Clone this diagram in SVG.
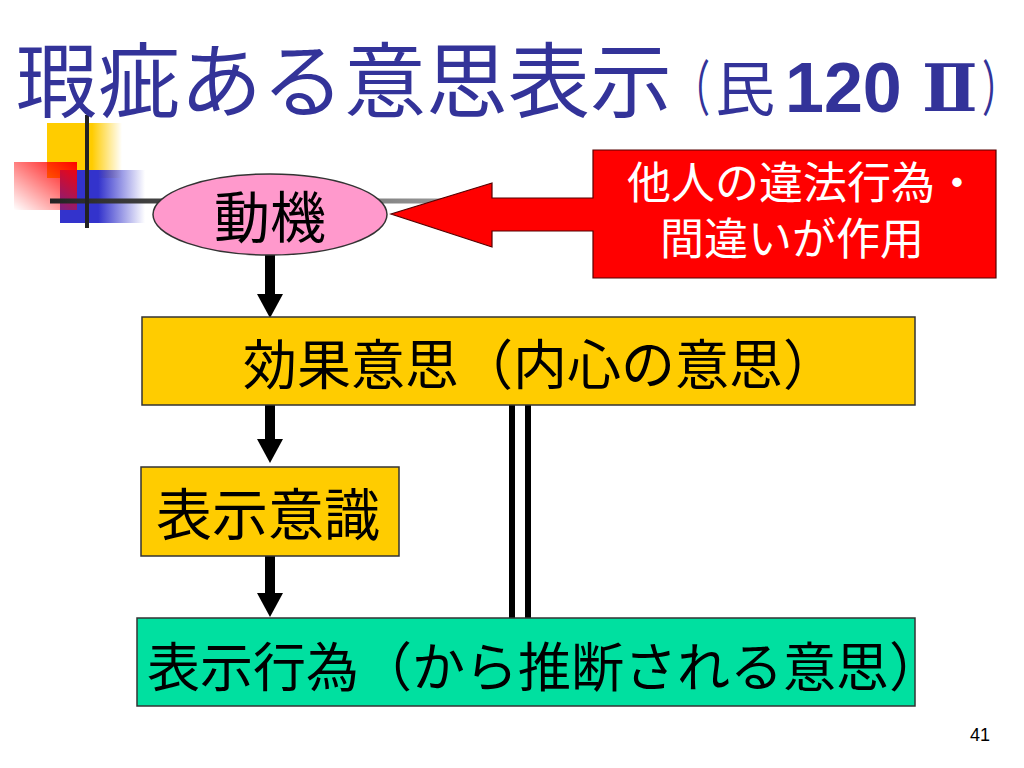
<svg xmlns="http://www.w3.org/2000/svg" width="1024" height="768" viewBox="0 0 1024 768">
<style>
.jp{font-family:"Noto Sans CJK JP","Noto Sans",sans-serif;}
.jpc{font-family:"Liberation Sans","Noto Sans CJK JP",sans-serif;}
.title{fill:#333399;}
.box{stroke:#333333;stroke-width:1.5;}
.lbl{fill:#000000;}
.conn{stroke:#000000;stroke-width:10;fill:none;}
.dbl{stroke:#000000;stroke-width:6;fill:none;}
</style>
<defs>
<linearGradient id="gY" x1="0" y1="0" x2="1" y2="0">
<stop offset="0" stop-color="#FFCC00"/><stop offset="0.6" stop-color="#FFCC00"/><stop offset="1" stop-color="#FFCC00" stop-opacity="0"/>
</linearGradient>
<linearGradient id="gB" x1="0" y1="0" x2="1" y2="0">
<stop offset="0" stop-color="#3333CC"/><stop offset="0.45" stop-color="#3333CC"/><stop offset="1" stop-color="#3333CC" stop-opacity="0"/>
</linearGradient>
<linearGradient id="gR" x1="1" y1="0" x2="0" y2="1">
<stop offset="0" stop-color="#FF0000"/><stop offset="1" stop-color="#FF0000" stop-opacity="0"/>
</linearGradient>
<linearGradient id="gL" gradientUnits="userSpaceOnUse" x1="50" y1="0" x2="450" y2="0">
<stop offset="0" stop-color="#222222"/><stop offset="1" stop-color="#999999"/>
</linearGradient>
<marker id="ah" markerUnits="userSpaceOnUse" markerWidth="24" markerHeight="26" viewBox="0 0 24 26" refX="0" refY="13" orient="auto">
<path d="M0,0 L24,13 L0,26 Z" fill="#000000"/>
</marker>
</defs>
<rect width="1024" height="768" fill="#FFFFFF"/>

<g id="decoration">
<rect x="47" y="123" width="75" height="55" fill="url(#gY)"/>
<rect x="60" y="170" width="85" height="53" fill="url(#gB)"/>
<rect x="14" y="162" width="63" height="48" fill="url(#gR)"/>
<line x1="50" y1="201" x2="500" y2="201" stroke="url(#gL)" stroke-width="5"/>
<line x1="87" y1="115" x2="87" y2="228" stroke="#222222" stroke-width="4"/>
</g>

<g id="title" class="jp title">
<text x="16" y="111" font-size="82">瑕疵ある意思表示</text>
<text transform="translate(674,111) scale(0.6,1)" font-size="60">（</text>
<text y="111" font-size="60"><tspan x="715">民</tspan><tspan x="785" y="112" font-size="70" font-weight="bold" style="font-family:'Liberation Sans',Arial,sans-serif">120</tspan><tspan x="922" y="111" font-size="66" font-weight="bold" style="font-family:'DejaVu Serif',serif">Ⅱ</tspan></text>
<text transform="translate(982,111) scale(0.6,1)" font-size="60">）</text>
</g>

<g id="connectors">
<line class="conn" x1="270" y1="255" x2="270" y2="294" marker-end="url(#ah)"/>
<line class="conn" x1="270" y1="405" x2="270" y2="439" marker-end="url(#ah)"/>
<line class="conn" x1="270" y1="556" x2="270" y2="593" marker-end="url(#ah)"/>
<line class="dbl" x1="512" y1="405" x2="512" y2="618"/>
<line class="dbl" x1="528" y1="405" x2="528" y2="618"/>
</g>

<g id="node-motive">
<ellipse cx="270" cy="214.5" rx="117" ry="40.5" fill="#FF99CC" class="box"/>
<text x="270" y="238" font-size="56" text-anchor="middle" class="jp lbl">動機</text>
</g>

<g id="node-cause">
<path d="M593,150 H996 V278 H593 V231 H492 V247 L391,214 L492,183 V198 H593 Z" fill="#FF0000" stroke="#550000" stroke-width="1.2"/>
<text font-size="44" class="jpc" fill="#FFFFFF"><tspan x="627" y="199">他人の違法行為・</tspan><tspan x="660" y="255">間違いが作用</tspan></text>
</g>

<g id="node-effect-intent">
<rect x="142" y="317" width="773" height="88" fill="#FFCC00" class="box"/>
<text x="243" y="385" font-size="54" class="jp lbl">効果意思（内心の意思）</text>
</g>

<g id="node-expression-awareness">
<rect x="141" y="467" width="258" height="89" fill="#FFCC00" class="box"/>
<text x="156" y="535" font-size="56" class="jp lbl">表示意識</text>
</g>

<g id="node-expression-act">
<rect x="137" y="618" width="778" height="88" fill="#00E0A0" class="box"/>
<text x="147" y="687" font-size="53" class="jp lbl">表示行為（から推断される意思）</text>
</g>

<text x="970" y="741" font-size="18" style="font-family:'Liberation Sans',Arial,sans-serif" fill="#000000">41</text>
</svg>
